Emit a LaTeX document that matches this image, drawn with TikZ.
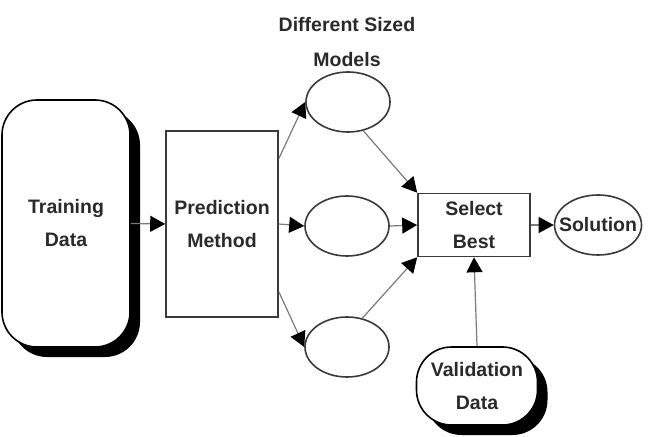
\documentclass[tikz,border=0pt]{standalone}
\usepackage{fontspec}
\setmainfont{Liberation Sans}
\usetikzlibrary{arrows.meta,shapes.geometric,shadows}
\definecolor{border}{HTML}{3A3A3A}
\definecolor{wire}{HTML}{7A7A7A}
\definecolor{ink}{HTML}{2A2A2A}
\begin{document}
\begin{tikzpicture}[x=1bp,y=-1bp,
  txt/.style={font=\fontsize{19.5bp}{33bp}\selectfont\bfseries, text=ink, align=center},
  box/.style={txt, draw=border, line width=1.6bp, fill=white, inner sep=0pt},
  oval/.style={box, ellipse, minimum width=84bp, minimum height=60bp},
  pill/.style={box, draw=black, rounded corners=35bp,
     drop shadow={shadow xshift=10bp, shadow yshift=-10bp, fill=black, opacity=1}},
  conn/.style={draw=wire, line width=1.2bp,
     -{Triangle[length=15bp,width=16bp,color=black]}}
]
\useasboundingbox[fill=white] (0,0) rectangle (648,437);

\node[pill, minimum width=128bp, minimum height=247bp] (td) at (66,223.5) {Training\\Data};
\node[box, minimum width=112bp, minimum height=186bp] (pm) at (222,224) {Prediction\\Method};
\node[oval] (m1) at (348,102) {};
\node[oval] (m2) at (347,226) {};
\node[oval] (m3) at (347,347) {};
\node[box, minimum width=112bp, minimum height=63bp] (sb) at (474,225) {Select\\Best};
\node[oval, minimum width=87bp] (sol) at (598,225) {\makebox[0pt]{Solution}};
\node[pill, minimum width=121bp, minimum height=78bp] (vd) at (477,386) {Validation\\Data};
\node[txt, font=\fontsize{19.5bp}{35bp}\selectfont\bfseries] (title) at (347,42) {Different Sized\\Models};

\draw[conn] (td.east) -- (pm.west);
\draw[conn] (pm.49) -- (m1.west);
\draw[conn] (pm.east) -- (m2.west);
\draw[conn] (pm.-50) -- (m3.west);
\draw[conn] (m1.-62) -- (sb.north west);
\draw[conn] (m2.east) -- (sb.west);
\draw[conn] (m3.62) -- (sb.south west);
\draw[conn] (sb.east) -- (sol.west);
\draw[conn] (vd.north) -- (sb.south);
\end{tikzpicture}
\end{document}
